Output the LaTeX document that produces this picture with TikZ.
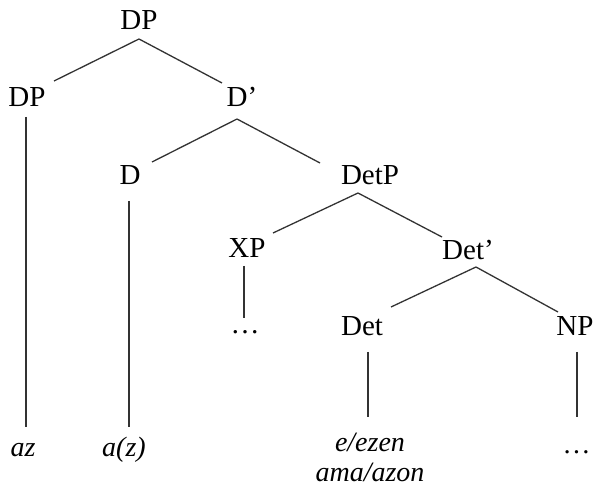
\documentclass[tikz,border=0pt]{standalone}
\usepackage{fontspec}
\setmainfont{Liberation Serif}
\usetikzlibrary{calc}
\begin{document}
\begin{tikzpicture}[x=1pt,y=-1pt,
  lab/.style={inner sep=0pt,font=\fontsize{29}{30}\selectfont},
  leaf/.style={inner sep=0pt,font=\fontsize{28}{30}\selectfont\itshape,align=center},
  edge/.style={draw=black!80,line width=1.3pt}]
\useasboundingbox (0,0) rectangle (598,497);
\fill[white] (0,0) rectangle (598,497);
\node[lab] (dp) at (139,20) {DP};
\node[lab] (dpl) at (27,97) {DP};
\node[lab] (dbar) at (242,97) {D’};
\node[lab] (d) at (130,175) {D};
\node[lab] (detp) at (370,175) {DetP};
\node[lab] (xp) at (247,248) {XP};
\node[lab] (detbar) at (468,250) {Det’};
\node[lab] (det) at (362,326) {Det};
\node[lab] (np) at (575,326) {NP};
\node[lab] (xdots) at (245,332) {\dots};
\node[leaf] (az) at (23,450) {az};
\node[leaf] (az2) at (124,450) {a(z)};
\node[leaf] (ez) at (370,457) {e/ezen\\ama/azon};
\node[leaf] (npdots) at (577,452) {\dots};
\path[edge] ($(dp)+(0,19)$) -- ($(dpl)+(27,-16)$);
\path[edge] ($(dp)+(0,19)$) -- ($(dbar)+(-20,-14)$);
\path[edge] ($(dpl)+(-1,20)$) -- ($(az)+(3,-23)$);
\path[edge] ($(dbar)+(-5,22)$) -- ($(d)+(22,-13)$);
\path[edge] ($(dbar)+(-5,22)$) -- ($(detp)+(-50,-12)$);
\path[edge] ($(d)+(-1,26)$) -- ($(az2)+(5,-23)$);
\path[edge] ($(detp)+(-12,18)$) -- ($(xp)+(26,-15)$);
\path[edge] ($(detp)+(-12,18)$) -- ($(detbar)+(-26,-13)$);
\path[edge] ($(xp)+(-3,18)$) -- ($(xdots)+(-1,-14)$);
\path[edge] ($(detbar)+(8,17)$) -- ($(det)+(29,-19)$);
\path[edge] ($(detbar)+(8,17)$) -- ($(np)+(-17,-14)$);
\path[edge] ($(det)+(6,26)$) -- ($(ez)+(-2,-40)$);
\path[edge] ($(np)+(2,26)$) -- ($(npdots)+(0,-35)$);
\end{tikzpicture}
\end{document}
